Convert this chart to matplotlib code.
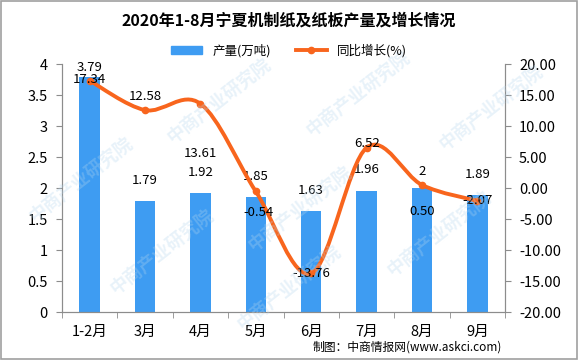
import numpy as np
import matplotlib
matplotlib.use('Agg')
import matplotlib.pyplot as plt
from matplotlib.path import Path
from matplotlib.patches import PathPatch, Rectangle
from matplotlib.lines import Line2D

plt.rcParams['font.family'] = ['Noto Sans CJK SC', 'DejaVu Sans']

# DATA
months = ['1-2月', '3月', '4月', '5月', '6月', '7月', '8月', '9月']
output = [3.79, 1.79, 1.92, 1.85, 1.63, 1.96, 2, 1.89]
output_labels = ['3.79', '1.79', '1.92', '1.85', '1.63', '1.96', '2', '1.89']
growth = [17.34, 12.58, 13.61, -0.54, -13.76, 6.52, 0.50, -2.07]
growth_labels = ['17.34', '12.58', '13.61', '-0.54', '-13.76', '6.52', '0.50', '-2.07']
left_ticks = [0, 0.5, 1, 1.5, 2, 2.5, 3, 3.5, 4]
left_tick_labels = ['0', '0.5', '1', '1.5', '2', '2.5', '3', '3.5', '4']
right_ticks = [-20, -15, -10, -5, 0, 5, 10, 15, 20]

bar_color = '#3E9CF2'
line_color = '#F8651D'
axis_color = '#8C8C8C'

# label offsets in points (placement as in the reference)
bar_label_dy = [7, 15, 15, 15, 15, 15, 12, 15]
line_label_dy = [1, 10, -36, -15, 0, 3, -19, 0]
line_label_dx = [0, 0, 0, 2, 0, 0, 0, 0]


def smooth_path(xs, ys, t=1 / 6):
    # catmull-rom style bezier segments through the points
    verts = [(xs[0], ys[0])]
    codes = [Path.MOVETO]
    n = len(xs)
    for i in range(n - 1):
        x0, y0 = (xs[i - 1], ys[i - 1]) if i > 0 else (xs[i], ys[i])
        x1, y1 = xs[i], ys[i]
        x2, y2 = xs[i + 1], ys[i + 1]
        x3, y3 = (xs[i + 2], ys[i + 2]) if i + 2 < n else (x2, y2)
        c1 = (x1 + (x2 - x0) * t, y1 + (y2 - y0) * t)
        c2 = (x2 - (x3 - x1) * t, y2 - (y3 - y1) * t)
        verts += [c1, c2, (x2, y2)]
        codes += [Path.CURVE4] * 3
    return Path(verts, codes)


fig = plt.figure(figsize=(5.78, 3.6), dpi=100)
ax = fig.add_axes([0.107, 0.133, 0.767, 0.689])
ax2 = ax.twinx()

x = np.arange(len(months))
ax.bar(x, output, width=0.37, color=bar_color, zorder=2)
ax.set_xlim(-0.5, len(months) - 0.5)
ax.set_ylim(0, 4)
ax.set_yticks(left_ticks)
ax.set_yticklabels(left_tick_labels)
ax.set_xticks(x)
ax.set_xticklabels(months)
ax.set_xticks(np.arange(-0.5, len(months), 1), minor=True)
ax.tick_params(axis='x', which='major', length=0, pad=9, labelsize=10.5)
ax.tick_params(axis='x', which='minor', length=4, color=axis_color, direction='out')
ax.tick_params(axis='y', length=4, color=axis_color, labelsize=10.5, pad=6)

for i, v in enumerate(output):
    ax.annotate(output_labels[i], (x[i], v), xytext=(0, bar_label_dy[i]),
                textcoords='offset points', ha='center', va='center', fontsize=9.5)

ax2.set_ylim(-20, 20)
ax2.set_yticks(right_ticks)
ax2.set_yticklabels(['%.2f' % t for t in right_ticks])
ax2.tick_params(axis='y', length=4, color=axis_color, labelsize=10.5, pad=6)

patch = PathPatch(smooth_path(list(x), growth), facecolor='none', edgecolor=line_color,
                  lw=2.8, zorder=3)
ax2.add_patch(patch)
ax2.plot(x, growth, 'o', color=line_color, ms=4.5, zorder=4)

for i, v in enumerate(growth):
    ax2.annotate(growth_labels[i], (x[i], v), xytext=(line_label_dx[i], line_label_dy[i]),
                 textcoords='offset points', ha='center', va='center', fontsize=9.5, zorder=5)

for a in (ax, ax2):
    a.spines['top'].set_visible(False)
    for s in ('left', 'right', 'bottom'):
        a.spines[s].set_color(axis_color)

# title and legend
fig.text(0.5, 0.943, '2020年1-8月宁夏机制纸及纸板产量及增长情况', ha='center', va='center',
         fontsize=11.5, fontweight='bold')
handles = [Rectangle((0, 0), 1, 1, color=bar_color),
           Line2D([], [], color=line_color, lw=2.8, marker='o', ms=4.5)]
fig.legend(handles, ['产量(万吨)', '同比增长(%)'], loc='center', bbox_to_anchor=(0.5, 0.86),
           ncol=2, frameon=False, fontsize=9, handlelength=2.5, handleheight=0.6,
           columnspacing=2.0)

# watermark
for wx, wy in [(0.14, 0.5), (0.38, 0.72), (0.62, 0.74), (0.85, 0.7),
               (0.28, 0.3), (0.52, 0.42), (0.76, 0.35), (0.5, 0.2)]:
    fig.text(wx, wy, '中商产业研究院', rotation=38, ha='center', va='center', fontsize=13,
             color='#B5D6EE', alpha=0.3, fontweight='bold', zorder=0)

fig.text(0.705, 0.035, '制图：中商情报网(www.askci.com)', ha='center', va='center', fontsize=8.5)

fig.patches.append(Rectangle((0.001, 0.002), 0.997, 0.995, transform=fig.transFigure,
                             fill=False, edgecolor='#A0A0A0', lw=1.2))

fig.savefig('out.png', dpi=100)
